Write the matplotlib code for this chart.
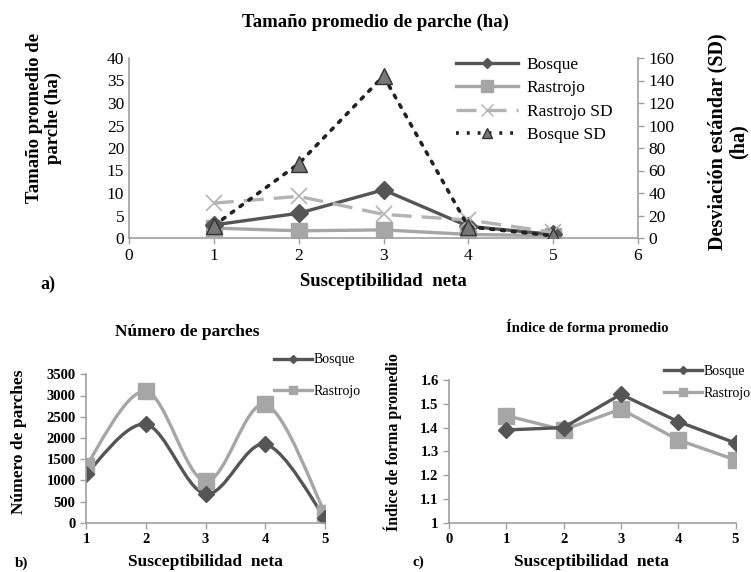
import matplotlib
matplotlib.use('Agg')
import matplotlib.pyplot as plt
from matplotlib.path import Path
from matplotlib.patches import PathPatch
from matplotlib.lines import Line2D

plt.rcParams['font.family'] = 'Liberation Serif'

# ---- data ----
x_susc = [1, 2, 3, 4, 5]

# a) patch size (ha) and standard deviation
bosque_tam = [2.9, 5.5, 10.7, 2.6, 0.8]
rastrojo_tam = [2.2, 1.6, 1.8, 0.8, 0.5]
rastrojo_sd = [31, 37, 21, 16, 5]
bosque_sd = [11, 66, 144, 10, 2]

# b) number of patches
bosque_num = [1150, 2320, 680, 1850, 110]
rastrojo_num = [1340, 3100, 980, 2790, 230]

# c) mean shape index
bosque_idx = [1.39, 1.40, 1.54, 1.425, 1.335]
rastrojo_idx = [1.45, 1.39, 1.478, 1.348, 1.264]

DARK = '#555555'
LIGHT = '#a6a6a6'
SPINE = '#a0a0a0'


def smooth_path(xs, ys):
    # Excel-like smoothed line: Catmull-Rom as cubic Bezier segments
    n = len(xs)
    verts = [(xs[0], ys[0])]
    codes = [Path.MOVETO]
    for i in range(n - 1):
        x0, y0 = xs[max(i - 1, 0)], ys[max(i - 1, 0)]
        x1, y1 = xs[i], ys[i]
        x2, y2 = xs[i + 1], ys[i + 1]
        x3, y3 = xs[min(i + 2, n - 1)], ys[min(i + 2, n - 1)]
        verts += [(x1 + (x2 - x0) / 6, y1 + (y2 - y0) / 6),
                  (x2 - (x3 - x1) / 6, y2 - (y3 - y1) / 6),
                  (x2, y2)]
        codes += [Path.CURVE4] * 3
    return Path(verts, codes)


def style_axes(ax):
    for s in ['top', 'right']:
        ax.spines[s].set_visible(False)
    for s in ['left', 'bottom']:
        ax.spines[s].set_color(SPINE)
        ax.spines[s].set_linewidth(1.2)
    ax.tick_params(colors=SPINE, length=4, width=1.0, labelcolor='black')


fig = plt.figure(figsize=(7.51, 5.72), dpi=100)
W, H = 751, 572

# =============================================
# a) Tamaño promedio de parche
# =============================================
ax = fig.add_axes([129 / W, 1 - 238 / H, (638 - 129) / W, (238 - 58) / H])
ax2 = ax.twinx()
style_axes(ax)
ax2.spines['top'].set_visible(False)
ax2.spines['left'].set_visible(False)
ax2.spines['bottom'].set_visible(False)
ax2.spines['right'].set_color(SPINE)
ax2.spines['right'].set_linewidth(1.2)
ax2.tick_params(colors=SPINE, length=4, width=1.0, labelcolor='black')
ax.tick_params(axis='y', length=0)

ax.plot(x_susc, bosque_tam, color=DARK, lw=2.4, marker='D', ms=9, zorder=3)
ax.plot(x_susc, rastrojo_tam, color=LIGHT, lw=2.4, marker='s', ms=12, zorder=2)
ax2.plot(x_susc, rastrojo_sd, color='#b3b3b3', lw=2.4, ls=(0, (6, 3)),
         marker='x', ms=12, mew=1.2)
ax2.plot(x_susc, bosque_sd, color='#222222', lw=2.6, ls=(0, (0.8, 2.2)),
         dash_capstyle='round', marker='^', ms=11, mfc='#777777', mec='#333333')

ax.set_xlim(0, 6)
ax.set_ylim(0, 40)
ax2.set_ylim(0, 160)
ax.set_xticks(range(0, 7))
ax.set_yticks(range(0, 41, 5))
ax2.set_yticks(range(0, 161, 20))
for a in (ax, ax2):
    for lab in a.get_xticklabels() + a.get_yticklabels():
        lab.set_fontsize(12.5)

handles = [
    Line2D([], [], color=DARK, lw=2.4, marker='D', ms=5),
    Line2D([], [], color=LIGHT, lw=2.4, marker='s', ms=8),
    Line2D([], [], color='#b3b3b3', lw=2.4, ls=(0, (6, 3)), marker='x', ms=8),
    Line2D([], [], color='#222222', lw=2.6, ls=(0, (0.8, 2.2)), marker='^', ms=7,
           mfc='#777777', mec='#333333'),
]
fig.legend(handles, ['Bosque', 'Rastrojo', 'Rastrojo SD', 'Bosque SD'],
           loc='upper left', bbox_to_anchor=(440 / W, 1 - 41 / H),
           frameon=False, fontsize=12.5, handlelength=3.6, handletextpad=0.5,
           labelspacing=0.42)

fig.text(0.5, 1 - 22 / H, 'Tamaño promedio de parche (ha)', ha='center',
         va='center', fontsize=13.5, fontweight='bold')
fig.text(44 / W, 1 - 118 / H, 'Tamaño promedio de\nparche (ha)', rotation=90,
         ha='center', va='center', fontsize=13.5, fontweight='bold',
         multialignment='center', linespacing=1.1)
fig.text(728 / W, 1 - 142 / H, 'Desviación estándar (SD)\n(ha)', rotation=90,
         ha='center', va='center', fontsize=14.5, fontweight='bold',
         multialignment='center', linespacing=1.05)
fig.text(383 / W, 1 - 282 / H, 'Susceptibilidad  neta', ha='center',
         va='center', fontsize=13.5, fontweight='bold')
fig.text(48 / W, 1 - 284 / H, 'a)', ha='center', va='center', fontsize=13,
         fontweight='bold')

# =============================================
# b) Número de parches
# =============================================
axb = fig.add_axes([86 / W, 1 - 522.7 / H, (325 - 86) / W, (522.7 - 374.3) / H])
style_axes(axb)
for ys, col, mk, ms in [(rastrojo_num, LIGHT, 's', 11), (bosque_num, DARK, 'D', 8)]:
    axb.add_patch(PathPatch(smooth_path(x_susc, ys), fc='none', ec=col, lw=2.4))
    axb.plot(x_susc, ys, ls='none', marker=mk, ms=ms, color=col)
axb.set_xlim(1, 5)
axb.set_ylim(0, 3500)
axb.set_xticks(x_susc)
axb.set_yticks(range(0, 3501, 500))
for lab in axb.get_xticklabels() + axb.get_yticklabels():
    lab.set_fontsize(10.5)
    lab.set_fontweight('bold')
hb = [Line2D([], [], color=DARK, lw=2.4, marker='D', ms=4),
      Line2D([], [], color=LIGHT, lw=2.4, marker='s', ms=6)]
fig.legend(hb, ['Bosque', 'Rastrojo'], loc='upper left',
           bbox_to_anchor=(261 / W, 1 - 341 / H), frameon=False, fontsize=10,
           handlelength=2.8, handletextpad=0.1, labelspacing=1.3)
fig.text(187 / W, 1 - 332 / H, 'Número de parches', ha='center', va='center',
         fontsize=12.5, fontweight='bold')
fig.text(19 / W, 1 - 442 / H, 'Número de parches', rotation=90, ha='center',
         va='center', fontsize=12.5, fontweight='bold')
fig.text(205 / W, 1 - 562 / H, 'Susceptibilidad  neta', ha='center',
         va='center', fontsize=12.5, fontweight='bold')
fig.text(22 / W, 1 - 563 / H, 'b)', ha='center', va='center', fontsize=11,
         fontweight='bold')

# =============================================
# c) Índice de forma promedio
# =============================================
axc = fig.add_axes([449 / W, 1 - 522.7 / H, (735.5 - 449) / W, (522.7 - 380) / H])
style_axes(axc)
axc.plot(x_susc, rastrojo_idx, color=LIGHT, lw=2.4, marker='s', ms=11)
axc.plot(x_susc, bosque_idx, color=DARK, lw=2.4, marker='D', ms=8)
axc.set_xlim(0, 5)
axc.set_ylim(1, 1.6)
axc.set_xticks(range(0, 6))
axc.set_yticks([1, 1.1, 1.2, 1.3, 1.4, 1.5, 1.6])
axc.set_yticklabels(['1', '1.1', '1.2', '1.3', '1.4', '1.5', '1.6'])
for lab in axc.get_xticklabels() + axc.get_yticklabels():
    lab.set_fontsize(10.5)
    lab.set_fontweight('bold')
fig.legend(hb, ['Bosque', 'Rastrojo'], loc='upper left',
           bbox_to_anchor=(651 / W, 1 - 352 / H), frameon=False, fontsize=10,
           handlelength=2.8, handletextpad=0.1, labelspacing=0.7)
fig.text(587 / W, 1 - 327 / H, 'Índice de forma promedio', ha='center',
         va='center', fontsize=10.5, fontweight='bold')
fig.text(393 / W, 1 - 442 / H, 'Índice de forma promedio', rotation=90,
         ha='center', va='center', fontsize=11.5, fontweight='bold')
fig.text(591 / W, 1 - 562 / H, 'Susceptibilidad  neta', ha='center',
         va='center', fontsize=12.5, fontweight='bold')
fig.text(418 / W, 1 - 562 / H, 'c)', ha='center', va='center', fontsize=11,
         fontweight='bold')

fig.savefig('out.png', dpi=100)
